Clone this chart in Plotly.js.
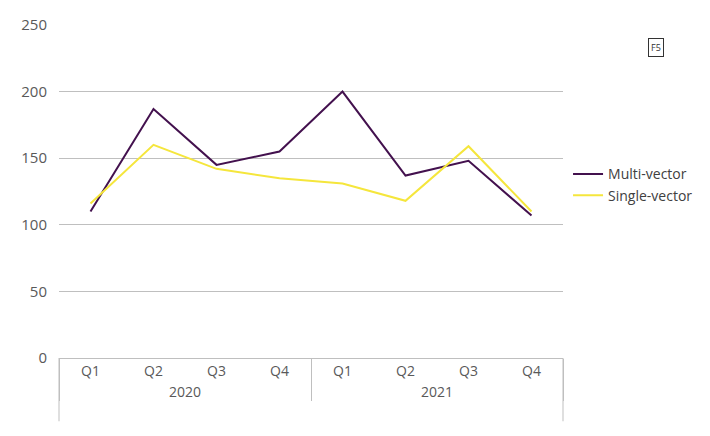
<!DOCTYPE html>
<html>
<head>
<script src="https://cdn.plot.ly/plotly-3.0.1.min.js"></script>
<style>body{margin:0}</style>
</head>
<body>
<div id="chart" style="width:710px;height:436px"></div>
<script>
// quarterly attack counts
var years = ['2020', '2020', '2020', '2020', '2021', '2021', '2021', '2021'];
var quarters = ['Q1', 'Q2', 'Q3', 'Q4', 'Q1', 'Q2', 'Q3', 'Q4'];
var multiVector = [110, 187, 145, 155, 200, 137, 148, 107];
var singleVector = [116, 160, 142, 135, 131, 118, 159, 110];

var data = [
  {
    x: [years, quarters], y: multiVector, type: 'scatter', mode: 'lines',
    name: 'Multi-vector', line: {color: '#43114e', width: 2}
  },
  {
    x: [years, quarters], y: singleVector, type: 'scatter', mode: 'lines',
    name: 'Single-vector', line: {color: '#f5e63c', width: 2}
  }
];

var layout = {
  width: 710, height: 436,
  margin: {l: 59, r: 132, t: 25, b: 78},
  font: {family: '"Open Sans", sans-serif', size: 14, color: '#595959'},
  showlegend: true,
  legend: {x: 1.01, y: 0.52, yanchor: 'middle', font: {size: 14, color: '#404040'}},
  xaxis: {
    type: 'multicategory', range: [-0.5, 7.5], showgrid: false, showline: true, linecolor: '#bfbfbf',
    showdividers: true, dividercolor: '#bfbfbf', dividerwidth: 1,
    ticks: 'outside', ticklen: 10, tickcolor: 'rgba(0,0,0,0)', tickfont: {size: 14}
  },
  yaxis: {
    range: [0, 250], dtick: 50, gridcolor: '#bfbfbf', zeroline: false,
    showline: false, ticks: 'outside', ticklen: 8, tickcolor: 'rgba(0,0,0,0)', tickfont: {size: 15}
  },
  shapes: [
    {type: 'line', xref: 'paper', yref: 'paper', x0: 0, x1: 0, y0: 0, y1: -0.19, line: {color: '#bfbfbf', width: 1}},
    {type: 'line', xref: 'paper', yref: 'paper', x0: 1, x1: 1, y0: 0, y1: -0.19, line: {color: '#bfbfbf', width: 1}}
  ],
  annotations: [{
    text: 'F5', xref: 'paper', yref: 'paper', x: 1.2, y: 0.96, showarrow: false,
    font: {size: 9, color: '#333'}, bordercolor: '#333', borderwidth: 1, borderpad: 2
  }]
};

Plotly.newPlot('chart', data, layout, {displayModeBar: false});
</script>
</body>
</html>
